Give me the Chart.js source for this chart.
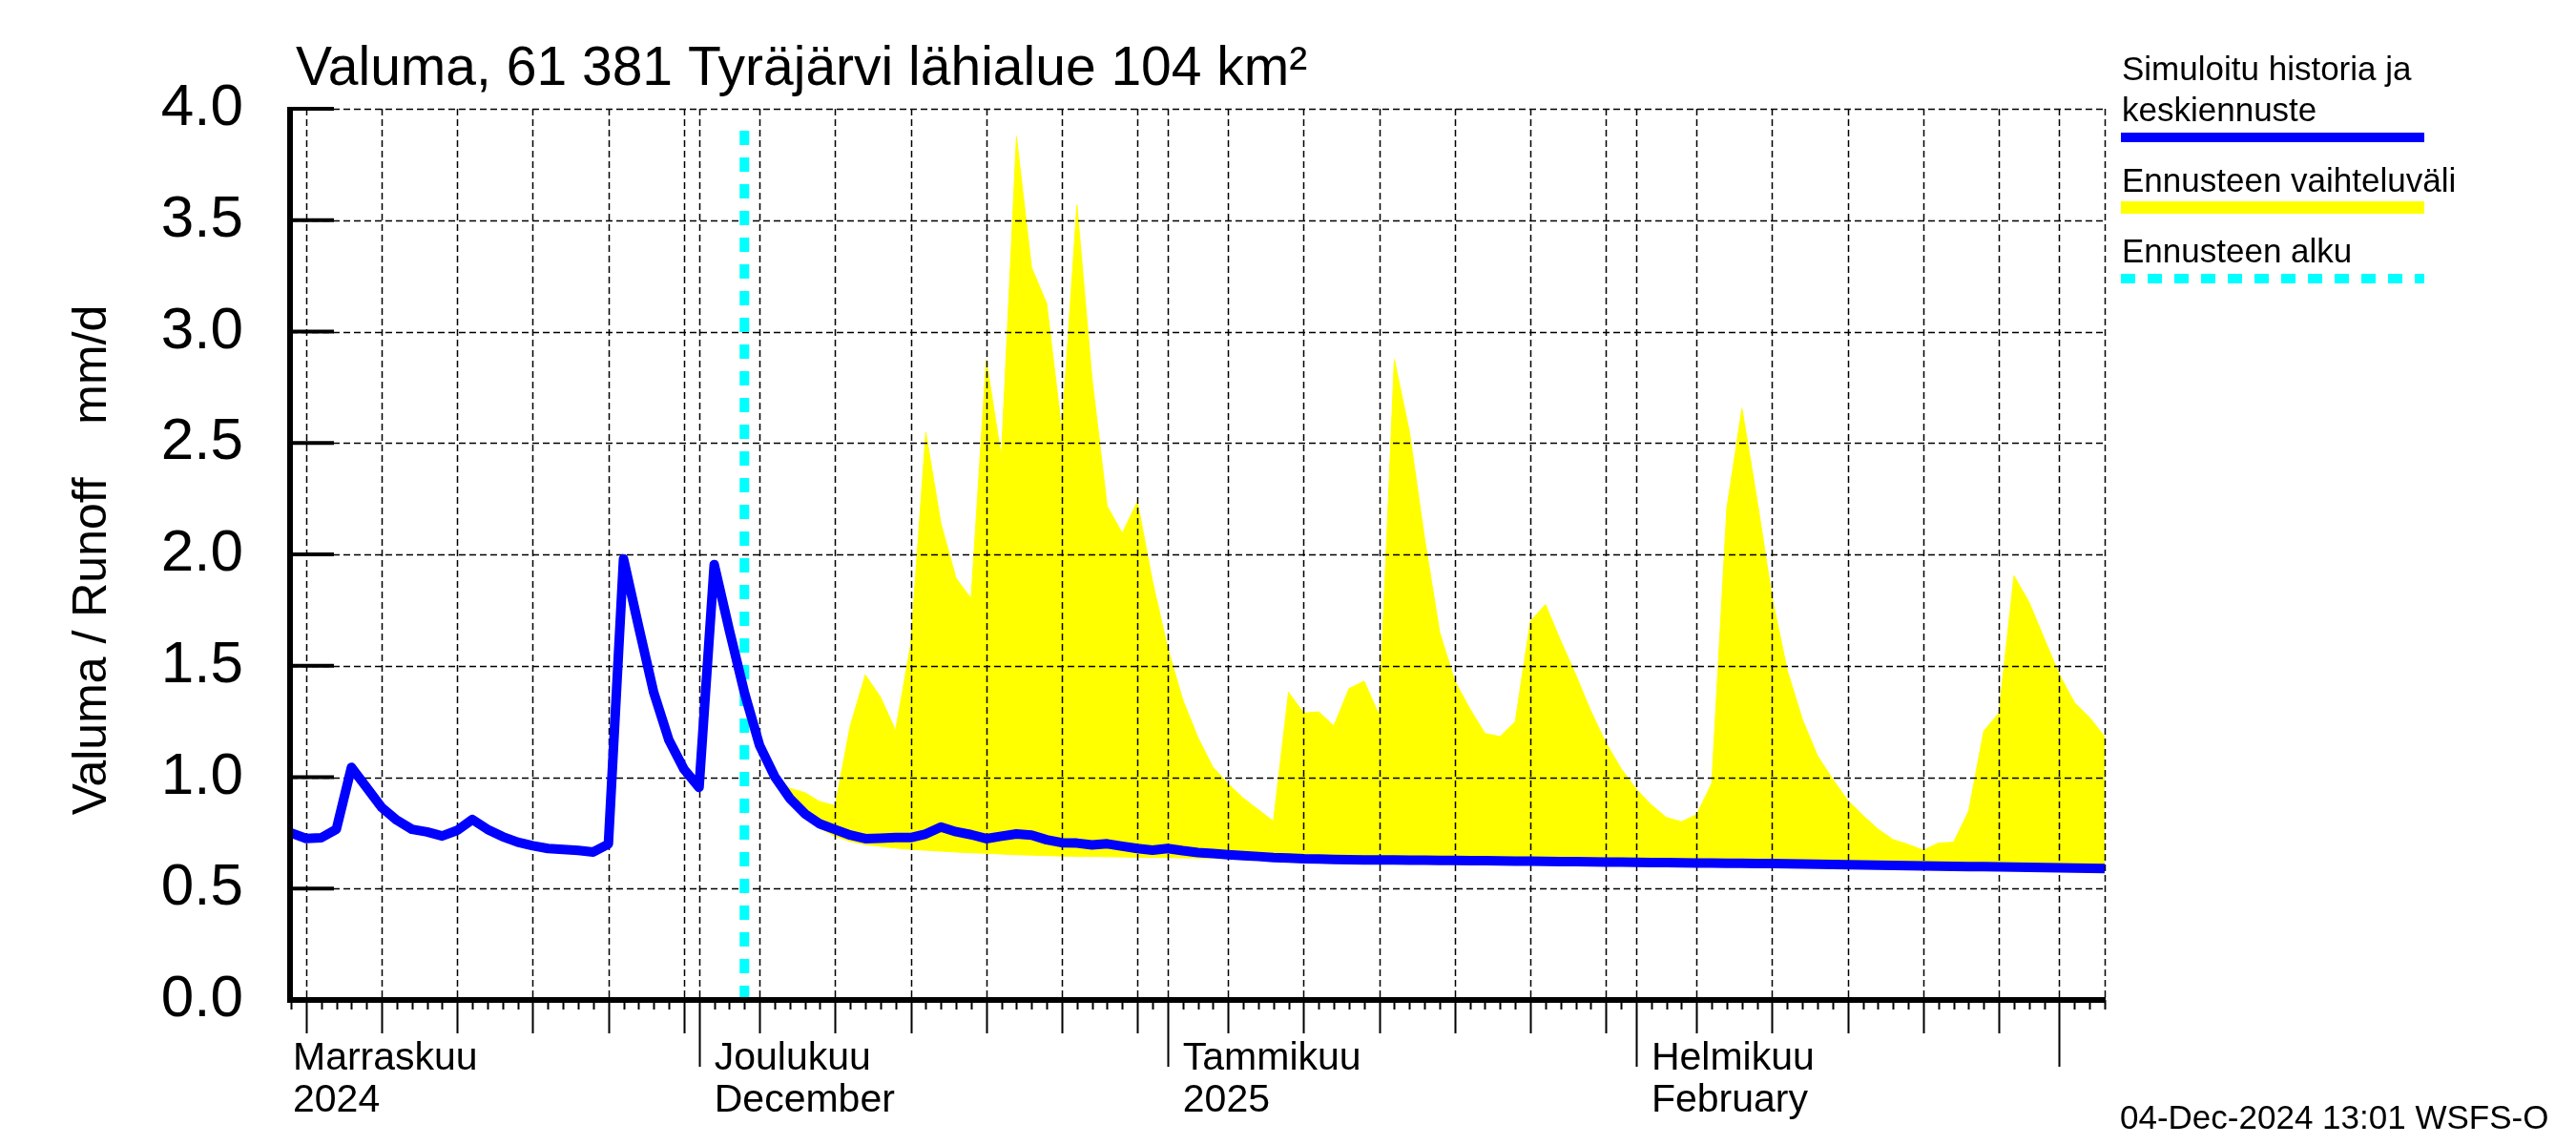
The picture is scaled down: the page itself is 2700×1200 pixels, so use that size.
<!DOCTYPE html>
<html lang="fi">
<head>
<meta charset="UTF-8" />
<title>Valuma, 61 381 Tyräjärvi lähialue</title>
<script src="https://cdn.jsdelivr.net/npm/chart.js"></script>
<style>
  html, body { margin: 0; padding: 0; background: #ffffff; }
  canvas { display: block; }
</style>
</head>
<body>
<canvas id="runoffChart" width="2700" height="1200"></canvas>
<script>
// day 0 = 4 Nov 2024, one value per day up to 4 Mar 2025 (mm/d)
const simValues = [
  0.75, 0.725, 0.728, 0.766, 1.044, 0.954, 0.864, 0.807, 0.766, 0.754,
  0.736, 0.761, 0.81, 0.766, 0.733, 0.708, 0.692, 0.68, 0.676, 0.671,
  0.664, 0.70, 1.98, 1.676, 1.38, 1.167, 1.036, 0.954, 1.954, 1.66,
  1.38, 1.143, 1.003, 0.905, 0.836, 0.79, 0.765, 0.74, 0.724, 0.726,
  0.729, 0.729, 0.745, 0.776, 0.755, 0.742, 0.724, 0.735, 0.745, 0.74,
  0.719, 0.706, 0.704, 0.696, 0.701, 0.69, 0.68, 0.672, 0.68, 0.67,
  0.662, 0.657, 0.652, 0.648, 0.644, 0.639, 0.637, 0.634, 0.633, 0.631,
  0.63, 0.629, 0.628, 0.628, 0.627, 0.627, 0.626, 0.626, 0.625, 0.625,
  0.624, 0.623, 0.623, 0.622, 0.621, 0.621, 0.62, 0.619, 0.619, 0.618,
  0.617, 0.617, 0.616, 0.615, 0.615, 0.614, 0.613, 0.612, 0.612, 0.611,
  0.61, 0.609, 0.608, 0.607, 0.606, 0.605, 0.604, 0.603, 0.602, 0.601,
  0.6, 0.599, 0.598, 0.597, 0.596, 0.595, 0.594, 0.593, 0.592, 0.591, 0.59
];

// forecast starts 4 Dec 2024
const forecastStartDay = 30;

// forecast range, one value per day from forecastStartDay
const bandUpper = [
  1.38, 1.15, 1.01, 0.95, 0.93, 0.89, 0.872, 1.23, 1.459, 1.36,
  1.21, 1.594, 2.547, 2.139, 1.893, 1.802, 2.872, 2.438, 3.874, 3.287,
  3.126, 2.555, 3.568, 2.789, 2.217, 2.095, 2.236, 1.88, 1.581, 1.348,
  1.179, 1.044, 0.971, 0.906, 0.854, 0.802, 1.381, 1.288, 1.293, 1.23,
  1.397, 1.431, 1.278, 2.875, 2.55, 2.072, 1.651, 1.431, 1.307, 1.196,
  1.182, 1.249, 1.699, 1.775, 1.613, 1.46, 1.297, 1.154, 1.039, 0.947,
  0.876, 0.819, 0.80, 0.832, 0.972, 2.206, 2.655, 2.244, 1.804, 1.479,
  1.259, 1.096, 0.991, 0.896, 0.829, 0.767, 0.72, 0.698, 0.672, 0.704,
  0.708, 0.848, 1.207, 1.288, 1.904, 1.785, 1.622, 1.46, 1.335, 1.268, 1.182
];
const bandLower = [
  1.38, 1.135, 0.99, 0.89, 0.82, 0.77, 0.735, 0.712, 0.698, 0.69,
  0.682, 0.676, 0.672, 0.668, 0.664, 0.661, 0.658, 0.655, 0.652, 0.65,
  0.648, 0.646, 0.645, 0.644, 0.643, 0.642, 0.641, 0.64, 0.639, 0.638,
  0.637, 0.636, 0.635, 0.634, 0.632, 0.63, 0.628, 0.625, 0.624, 0.622,
  0.621, 0.62, 0.619, 0.619, 0.618, 0.618, 0.617, 0.617, 0.616, 0.616,
  0.615, 0.614, 0.614, 0.613, 0.612, 0.612, 0.611, 0.61, 0.61, 0.609,
  0.608, 0.608, 0.607, 0.606, 0.606, 0.605, 0.604, 0.603, 0.603, 0.602,
  0.601, 0.6, 0.599, 0.598, 0.597, 0.596, 0.595, 0.594, 0.593, 0.592,
  0.591, 0.59, 0.589, 0.588, 0.587, 0.586, 0.585, 0.584, 0.583, 0.582, 0.581
];

const monthNames = ["Marraskuu", "Joulukuu", "Tammikuu", "Helmikuu"];
const monthSubtitles = ["2024", "December", "2025", "February"];
const titleText = "Valuma, 61 381 Tyräjärvi lähialue 104 km²";
const yTitleText = "Valuma / Runoff    mm/d";
const legendTexts = [["Simuloitu historia ja", "keskiennuste"], ["Ennusteen vaihteluväli"], ["Ennusteen alku"]];
const stampText = "04-Dec-2024 13:01 WSFS-O";

// calendar ticks
const DAY = 86400000;
const axisStart = Date.UTC(2024, 10, 4);
const axisDays = 120;
const months = [[2024, 10], [2024, 11], [2025, 0], [2025, 1], [2025, 2]];
function dayOf(y, m, d) { return (Date.UTC(y, m, d) - axisStart) / DAY; }

const gridDays = [], fiveDayTicks = [], monthTicks = [];
months.forEach(([y, m]) => {
  const first = dayOf(y, m, 1);
  if (first >= 0 && first <= axisDays) { gridDays.push(first); monthTicks.push(first); }
  for (let d = 5; d <= 30; d += 5) {
    if (new Date(Date.UTC(y, m, d)).getUTCMonth() !== m) continue;
    const k = dayOf(y, m, d);
    if (k >= 0 && k <= axisDays) { gridDays.push(k); fiveDayTicks.push(k); }
  }
});
gridDays.push(axisDays);

const FONT = '"Liberation Sans", Arial, Helvetica, sans-serif';
const BLUE = "#0000ff", YELLOW = "#ffff00", CYAN = "#00ffff";

function drawGrid(chart) {
  const { ctx, chartArea: a, scales: { x, y } } = chart;
  ctx.save();
  ctx.strokeStyle = "#000";
  ctx.lineWidth = 1.5;
  ctx.setLineDash([7, 4]);
  ctx.beginPath();
  y.ticks.forEach(t => {
    if (t.value === 0) return;
    const py = Math.round(y.getPixelForValue(t.value)) + 0.5;
    ctx.moveTo(a.left, py); ctx.lineTo(a.right, py);
  });
  gridDays.forEach(d => {
    const px = Math.round(x.getPixelForValue(d)) + 0.5;
    ctx.moveTo(px, a.top); ctx.lineTo(px, a.bottom);
  });
  ctx.stroke();
  ctx.restore();
}

const framePlugin = {
  id: "frame",
  beforeDatasetDraw(chart, args) {
    if (args.index === 3) drawGrid(chart);
  },
  afterDatasetsDraw(chart) {
    const { ctx, chartArea: a, scales: { x, y } } = chart;
    ctx.save();
    ctx.strokeStyle = "#000";
    ctx.setLineDash([]);
    // axis lines
    ctx.lineWidth = 6;
    ctx.beginPath();
    ctx.moveTo(a.left - 1, a.top - 2); ctx.lineTo(a.left - 1, a.bottom + 3);
    ctx.moveTo(a.left - 4, a.bottom); ctx.lineTo(a.right + 1, a.bottom);
    ctx.stroke();
    // y ticks (inward)
    ctx.lineWidth = 4;
    ctx.beginPath();
    y.ticks.forEach(t => {
      const py = y.getPixelForValue(t.value);
      ctx.moveTo(a.left, py); ctx.lineTo(a.left + 45, py);
    });
    ctx.stroke();
    // x ticks: daily, 5-day, month
    ctx.lineWidth = 2;
    ctx.beginPath();
    for (let d = 0; d <= axisDays; d++) {
      const px = Math.round(x.getPixelForValue(d)) + 0.5;
      let len = 10;
      if (fiveDayTicks.includes(d)) len = 35;
      if (monthTicks.includes(d)) len = 70;
      ctx.moveTo(px, a.bottom); ctx.lineTo(px, a.bottom + len);
    }
    ctx.stroke();
    ctx.restore();
  },
  afterDraw(chart) {
    const { ctx, chartArea: a, scales: { x } } = chart;
    ctx.save();
    ctx.fillStyle = "#000";
    ctx.textBaseline = "alphabetic";
    ctx.textAlign = "left";

    ctx.font = "57px " + FONT;
    ctx.fillText(titleText, 310, 89);

    ctx.save();
    ctx.translate(97, (a.top + a.bottom) / 2 + 6);
    ctx.rotate(-Math.PI / 2);
    ctx.textAlign = "center";
    ctx.textBaseline = "middle";
    ctx.font = "50px " + FONT;
    ctx.fillText(yTitleText, 0, 0);
    ctx.restore();

    // month labels
    ctx.font = "41px " + FONT;
    monthNames.forEach((name, i) => {
      const [yy, mm] = months[i];
      const px = Math.max(x.getPixelForValue(dayOf(yy, mm, 1)) + 16, a.left + 2);
      ctx.fillText(name, px, 1121);
      ctx.fillText(monthSubtitles[i], px, 1165);
    });

    ctx.font = "35px " + FONT;
    ctx.fillText(stampText, 2222, 1183);

    // legend
    const lx0 = 2223, lx1 = 2541;
    ctx.fillText(legendTexts[0][0], 2224, 84);
    ctx.fillText(legendTexts[0][1], 2224, 127);
    ctx.fillText(legendTexts[1][0], 2224, 201);
    ctx.fillText(legendTexts[2][0], 2224, 275);
    ctx.lineCap = "butt";
    ctx.strokeStyle = BLUE; ctx.lineWidth = 10;
    ctx.beginPath(); ctx.moveTo(lx0, 144); ctx.lineTo(lx1, 144); ctx.stroke();
    ctx.strokeStyle = YELLOW; ctx.lineWidth = 13;
    ctx.beginPath(); ctx.moveTo(lx0, 217.5); ctx.lineTo(lx1, 217.5); ctx.stroke();
    ctx.strokeStyle = CYAN; ctx.lineWidth = 10; ctx.setLineDash([15, 13]);
    ctx.beginPath(); ctx.moveTo(lx0, 292); ctx.lineTo(lx1, 292); ctx.stroke();
    ctx.restore();
  }
};

const simPoints = simValues.map((v, i) => ({ x: i, y: v }));
const upperPoints = bandUpper.map((v, i) => ({ x: forecastStartDay + i, y: v }));
const lowerPoints = bandLower.map((v, i) => ({ x: forecastStartDay + i, y: v }));
const startPoints = [{ x: forecastStartDay, y: 0 }, { x: forecastStartDay, y: 3.95 }];

new Chart(document.getElementById("runoffChart"), {
  type: "line",
  data: {
    datasets: [
      {
        label: "Simuloitu historia ja keskiennuste",
        data: simPoints,
        borderColor: BLUE,
        borderWidth: 10,
        borderJoinStyle: "round",
        pointRadius: 0,
        tension: 0,
        fill: false,
        order: 0
      },
      {
        label: "Ennusteen vaihteluväli",
        data: upperPoints,
        borderColor: YELLOW,
        backgroundColor: YELLOW,
        borderWidth: 1,
        pointRadius: 0,
        tension: 0,
        fill: "+1",
        order: 3
      },
      {
        label: "lower",
        data: lowerPoints,
        borderColor: YELLOW,
        borderWidth: 1,
        pointRadius: 0,
        tension: 0,
        fill: false,
        order: 4
      },
      {
        label: "Ennusteen alku",
        data: startPoints,
        borderColor: CYAN,
        borderWidth: 10,
        borderDash: [15, 13],
        pointRadius: 0,
        fill: false,
        order: 1
      }
    ]
  },
  options: {
    responsive: false,
    animation: false,
    devicePixelRatio: 1,
    layout: { padding: { left: 0, right: 494, top: 114, bottom: 0 } },
    plugins: {
      legend: { display: false },
      tooltip: { enabled: false },
      title: { display: false }
    },
    scales: {
      x: {
        type: "linear",
        min: 0,
        max: axisDays,
        grid: { display: false, drawTicks: false },
        border: { display: false },
        ticks: { display: false },
        afterFit(s) { s.height = 152; }
      },
      y: {
        min: 0,
        max: 4,
        grid: { display: false, drawTicks: false },
        border: { display: false },
        ticks: {
          stepSize: 0.5,
          autoSkip: false,
          padding: 50,
          labelOffset: 0,
          color: "#000",
          font: { family: FONT, size: 62 },
          callback: v => v.toFixed(1)
        },
        afterFit(s) { s.width = 305; }
      }
    }
  },
  plugins: [framePlugin]
});
</script>
</body>
</html>
